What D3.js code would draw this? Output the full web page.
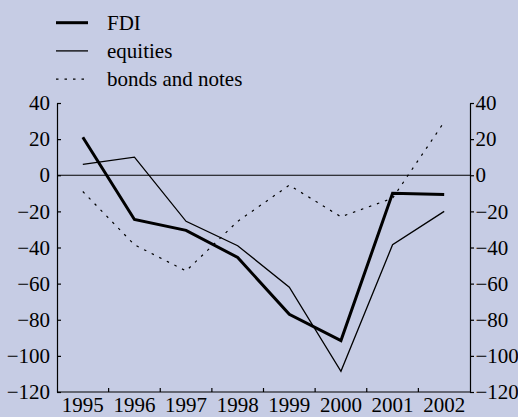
<!DOCTYPE html>
<html lang="en">
<head>
  <meta charset="UTF-8">
  <title>FDI, equities, bonds and notes</title>
  <script src="https://d3js.org/d3.v7.min.js"></script>
  <style>
    body { margin: 0; background: #c6cce4; }
    svg { display: block; }
  </style>
</head>
<body>
  <svg width="518" height="417"></svg>
  <script>
    const years = ["1995", "1996", "1997", "1998", "1999", "2000", "2001", "2002"];
    const fdi = [21, -24.5, -30.5, -45.5, -77, -91.5, -10, -10.7];
    const equities = [6, 10, -25.5, -39, -62, -108.5, -38.5, -20];
    const bonds = [-9, -38.5, -53, -25.5, -5.5, -23, -12.7, 29.5];
    const yTicks = [40, 20, 0, -20, -40, -60, -80, -100, -120];

    const series = [
      { name: "FDI", values: fdi, width: 3, dash: null },
      { name: "equities", values: equities, width: 1.3, dash: null },
      { name: "bonds and notes", values: bonds, width: 1.2, dash: "2.5,6" }
    ];

    const FONT = "'Liberation Serif', 'Times New Roman', Times, serif";
    const svg = d3.select("svg");
    const plotLeft = 57, plotRight = 470, plotTop = 103, plotBottom = 392;

    const x = d3.scaleBand().domain(years).range([plotLeft, plotRight]);
    const y = d3.scaleLinear().domain([-120, 40]).range([plotBottom, plotTop]);

    svg.append("rect").attr("width", 518).attr("height", 417).attr("fill", "#c6cce4");

    // axes
    const leftAxis = svg.append("g")
      .attr("transform", `translate(${plotLeft},0)`)
      .call(d3.axisLeft(y).tickValues(yTicks).tickSize(-4).tickSizeOuter(0).tickPadding(7));
    const rightAxis = svg.append("g")
      .attr("transform", `translate(${plotRight},0)`)
      .call(d3.axisRight(y).tickValues(yTicks).tickSize(4).tickSizeOuter(0).tickPadding(1.5));
    [leftAxis, rightAxis].forEach(g => {
      g.selectAll("path, line").attr("stroke", "#000").attr("stroke-width", 1.2);
    });

    // bottom axis: ticks at band boundaries, pointing inwards
    const bottomAxis = svg.append("g");
    bottomAxis.append("line")
      .attr("x1", plotLeft).attr("x2", plotRight)
      .attr("y1", plotBottom).attr("y2", plotBottom);
    bottomAxis.selectAll(".tk")
      .data(years.slice(1))
      .join("line")
      .attr("x1", d => x(d)).attr("x2", d => x(d))
      .attr("y1", plotBottom).attr("y2", plotBottom - 4);
    bottomAxis.selectAll("line").attr("stroke", "#000").attr("stroke-width", 1.2);
    bottomAxis.selectAll(".lbl")
      .data(years)
      .join("text")
      .attr("x", d => x(d) + x.bandwidth() / 2)
      .attr("y", 412)
      .attr("text-anchor", "middle")
      .text(d => d);

    // zero line
    svg.append("line")
      .attr("x1", plotLeft).attr("x2", plotRight)
      .attr("y1", y(0)).attr("y2", y(0))
      .attr("stroke", "#000").attr("stroke-width", 1.2);

    const line = d3.line()
      .x((d, i) => x(years[i]) + x.bandwidth() / 2)
      .y(d => y(d));

    svg.append("g").selectAll("path")
      .data(series)
      .join("path")
      .attr("d", d => line(d.values))
      .attr("fill", "none")
      .attr("stroke", "#000")
      .attr("stroke-width", d => d.width)
      .attr("stroke-dasharray", d => d.dash);

    // legend
    const legend = svg.append("g").selectAll("g")
      .data(series)
      .join("g")
      .attr("transform", (d, i) => `translate(0,${22.7 + i * 28.2})`);
    legend.append("line")
      .attr("x1", 56).attr("x2", 88)
      .attr("stroke", "#000")
      .attr("stroke-width", d => d.width)
      .attr("stroke-dasharray", d => d.dash);
    legend.append("text")
      .attr("x", 107)
      .attr("y", 7.3)
      .text(d => d.name);

    // one font for every text
    svg.selectAll("text")
      .attr("font-family", FONT)
      .attr("font-size", 21)
      .attr("fill", "#000");
  </script>
</body>
</html>
